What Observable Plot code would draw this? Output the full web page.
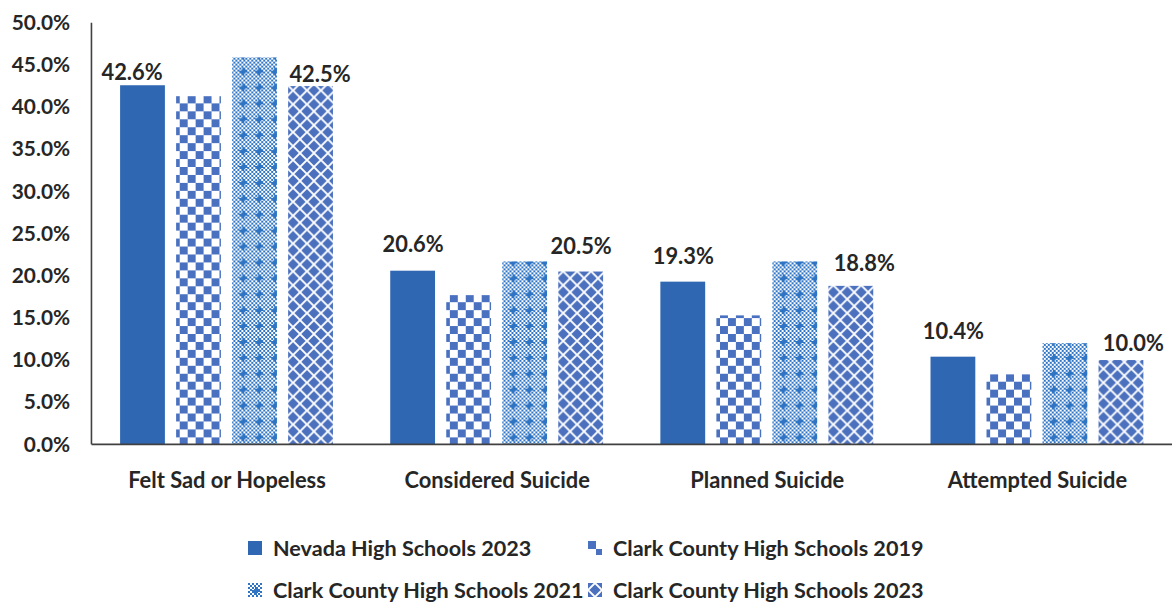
<!DOCTYPE html>
<html>
<head>
<meta charset="utf-8">
<script src="https://cdn.jsdelivr.net/npm/d3@7"></script>
<script src="https://cdn.jsdelivr.net/npm/@observablehq/plot@0.6"></script>
<style>
  html, body { margin: 0; padding: 0; background: #fff; overflow: hidden; }
  #wrap { position: relative; width: 1172px; height: 605px; overflow: hidden; font-family: Lato, sans-serif; font-weight: bold; color: #262626; }
  #chart { position: absolute; left: 0; top: 0; }
  .leg { position: absolute; display: flex; align-items: center; font-size: 21.6px; white-space: nowrap; }
  .leg svg { margin-right: 11px; }
</style>
</head>
<body>
<div id="wrap"><div id="chart"></div><div id="legend"></div></div>
<script>
const categories = ["Felt Sad or Hopeless", "Considered Suicide", "Planned Suicide", "Attempted Suicide"];
const series = ["Nevada High Schools 2023", "Clark County High Schools 2019", "Clark County High Schools 2021", "Clark County High Schools 2023"];
const nevada2023 = [42.6, 20.6, 19.3, 10.4];
const clark2019 = [41.3, 17.7, 15.3, 8.3];
const clark2021 = [45.9, 21.7, 21.7, 12.0];
const clark2023 = [42.5, 20.5, 18.8, 10.0];
const labeledSeries = ["Nevada High Schools 2023", "Clark County High Schools 2023"];
const yTicks = [0, 5, 10, 15, 20, 25, 30, 35, 40, 45, 50];

// layout only: label nudges (dx, dy in px) per category, for each labeled series
const labelNudge = {
  "Nevada High Schools 2023": [[-11, -13], [0, -26], [0, -25], [0, -25]],
  "Clark County High Schools 2023": [[9, -12], [0, -25], [13, -23], [12, -17]]
};

const seriesValues = [nevada2023, clark2019, clark2021, clark2023];
const rows = [];
categories.forEach((c, i) => series.forEach((s, j) => rows.push({category: c, series: s, value: seriesValues[j][i], ci: i})));

const fills = ["#3067b3", "url(#p2019)", "url(#p2021)", "url(#p2023)"];

const fxPadInner = 0.212, fxPadOuter = 0.106;
const plotWidth = 1179, mLeft = 92;
const fxStep = (plotWidth - mLeft) / (categories.length - fxPadInner + 2 * fxPadOuter);
const outerPx = fxStep * fxPadOuter;

const labelMarks = rows.filter(d => labeledSeries.includes(d.series)).map(d => {
  const [dx, dy] = labelNudge[d.series][d.ci];
  return Plot.text([d], {
    fx: "category", x: "series", y: "value",
    text: r => r.value.toFixed(1) + "%",
    dx, dy, fontSize: 22, fontWeight: "bold", fill: "#262626"
  });
});

const plot = Plot.plot({
  width: plotWidth,
  height: 510,
  marginLeft: mLeft,
  marginRight: 0,
  marginTop: 23,
  marginBottom: 63,
  style: {fontFamily: "Lato, sans-serif", fontWeight: "bold", fontSize: "22px", color: "#262626", background: "white", overflow: "visible"},
  fx: {domain: categories, paddingInner: fxPadInner, paddingOuter: fxPadOuter, round: false, label: null, axis: null},
  x: {domain: series, paddingInner: 0.2, paddingOuter: 0, round: false, axis: null},
  y: {domain: [0, 50], axis: null},
  color: {domain: series, range: fills},
  marks: [
    Plot.axisY({ticks: yTicks, tickFormat: d => d.toFixed(1) + "%", tickSize: 0, tickPadding: 22 + outerPx, label: null, fontSize: 21, fontWeight: "bold", fill: "#262626"}),
    Plot.axisFx({anchor: "bottom", tickSize: 0, tickPadding: 28, label: null, fontSize: 22, fontWeight: "bold", fill: "#262626"}),
    Plot.barY(rows, {fx: "category", x: "series", y: "value", fill: "series"}),
    ...labelMarks
  ]
});

function addPatterns(defs) {
  const p19 = defs.append("pattern").attr("id", "p2019").attr("patternUnits", "userSpaceOnUse").attr("width", 16).attr("height", 16);
  p19.append("rect").attr("width", 16).attr("height", 16).attr("fill", "#fff");
  p19.append("rect").attr("x", 0).attr("y", 0).attr("width", 8).attr("height", 8).attr("fill", "#4a71bf");
  p19.append("rect").attr("x", 8).attr("y", 8).attr("width", 8).attr("height", 8).attr("fill", "#4a71bf");

  const p21 = defs.append("pattern").attr("id", "p2021").attr("patternUnits", "userSpaceOnUse").attr("width", 16).attr("height", 16);
  p21.append("rect").attr("width", 16).attr("height", 16).attr("fill", "#fff");
  for (let i = 0; i < 8; i++) for (let j = 0; j < 8; j++) {
    if ((i + j) % 2 === 0) p21.append("rect").attr("x", i * 2).attr("y", j * 2).attr("width", 2).attr("height", 2).attr("fill", "#2f75c4");
  }
  p21.append("rect").attr("x", 7).attr("y", 4).attr("width", 2).attr("height", 8).attr("fill", "#2f75c4");
  p21.append("rect").attr("x", 4).attr("y", 7).attr("width", 8).attr("height", 2).attr("fill", "#2f75c4");
  p21.append("rect").attr("x", 6).attr("y", 6).attr("width", 4).attr("height", 4).attr("fill", "#2f75c4");

  const p23 = defs.append("pattern").attr("id", "p2023").attr("patternUnits", "userSpaceOnUse").attr("width", 14).attr("height", 14);
  p23.append("rect").attr("width", 14).attr("height", 14).attr("fill", "#4b70be");
  p23.append("path").attr("d", "M0,7 L7,0 L14,7 L7,14 Z").attr("fill", "none").attr("stroke", "#fff").attr("stroke-width", 1.8);
}

const svg = d3.select(plot);
addPatterns(svg.insert("defs", ":first-child"));

const ys = plot.scale("y");
const fxs = plot.scale("fx");
const y0 = ys.apply(0), yTop = ys.apply(50);
const xLeft = fxs.range[0], xRight = fxs.range[1];
svg.append("line").attr("x1", xLeft).attr("x2", xRight).attr("y1", y0).attr("y2", y0).attr("stroke", "#404040").attr("stroke-width", 1.6);
svg.append("line").attr("x1", xLeft).attr("x2", xLeft).attr("y1", yTop).attr("y2", y0).attr("stroke", "#404040").attr("stroke-width", 1.6);

document.getElementById("chart").appendChild(plot);

// legend
const legendPos = [[248, 548], [588, 548], [248, 590], [588, 590]];
const legend = d3.select("#legend");
series.forEach((s, i) => {
  const item = legend.append("div").attr("class", "leg")
    .style("left", legendPos[i][0] + "px").style("top", (legendPos[i][1] - 15) + "px").style("height", "30px");
  const sw = item.append("svg").attr("width", 14).attr("height", 14);
  sw.append("rect").attr("width", 14).attr("height", 14).attr("fill", fills[i]);
  item.append("span").text(s);
});
</script>
</body>
</html>
